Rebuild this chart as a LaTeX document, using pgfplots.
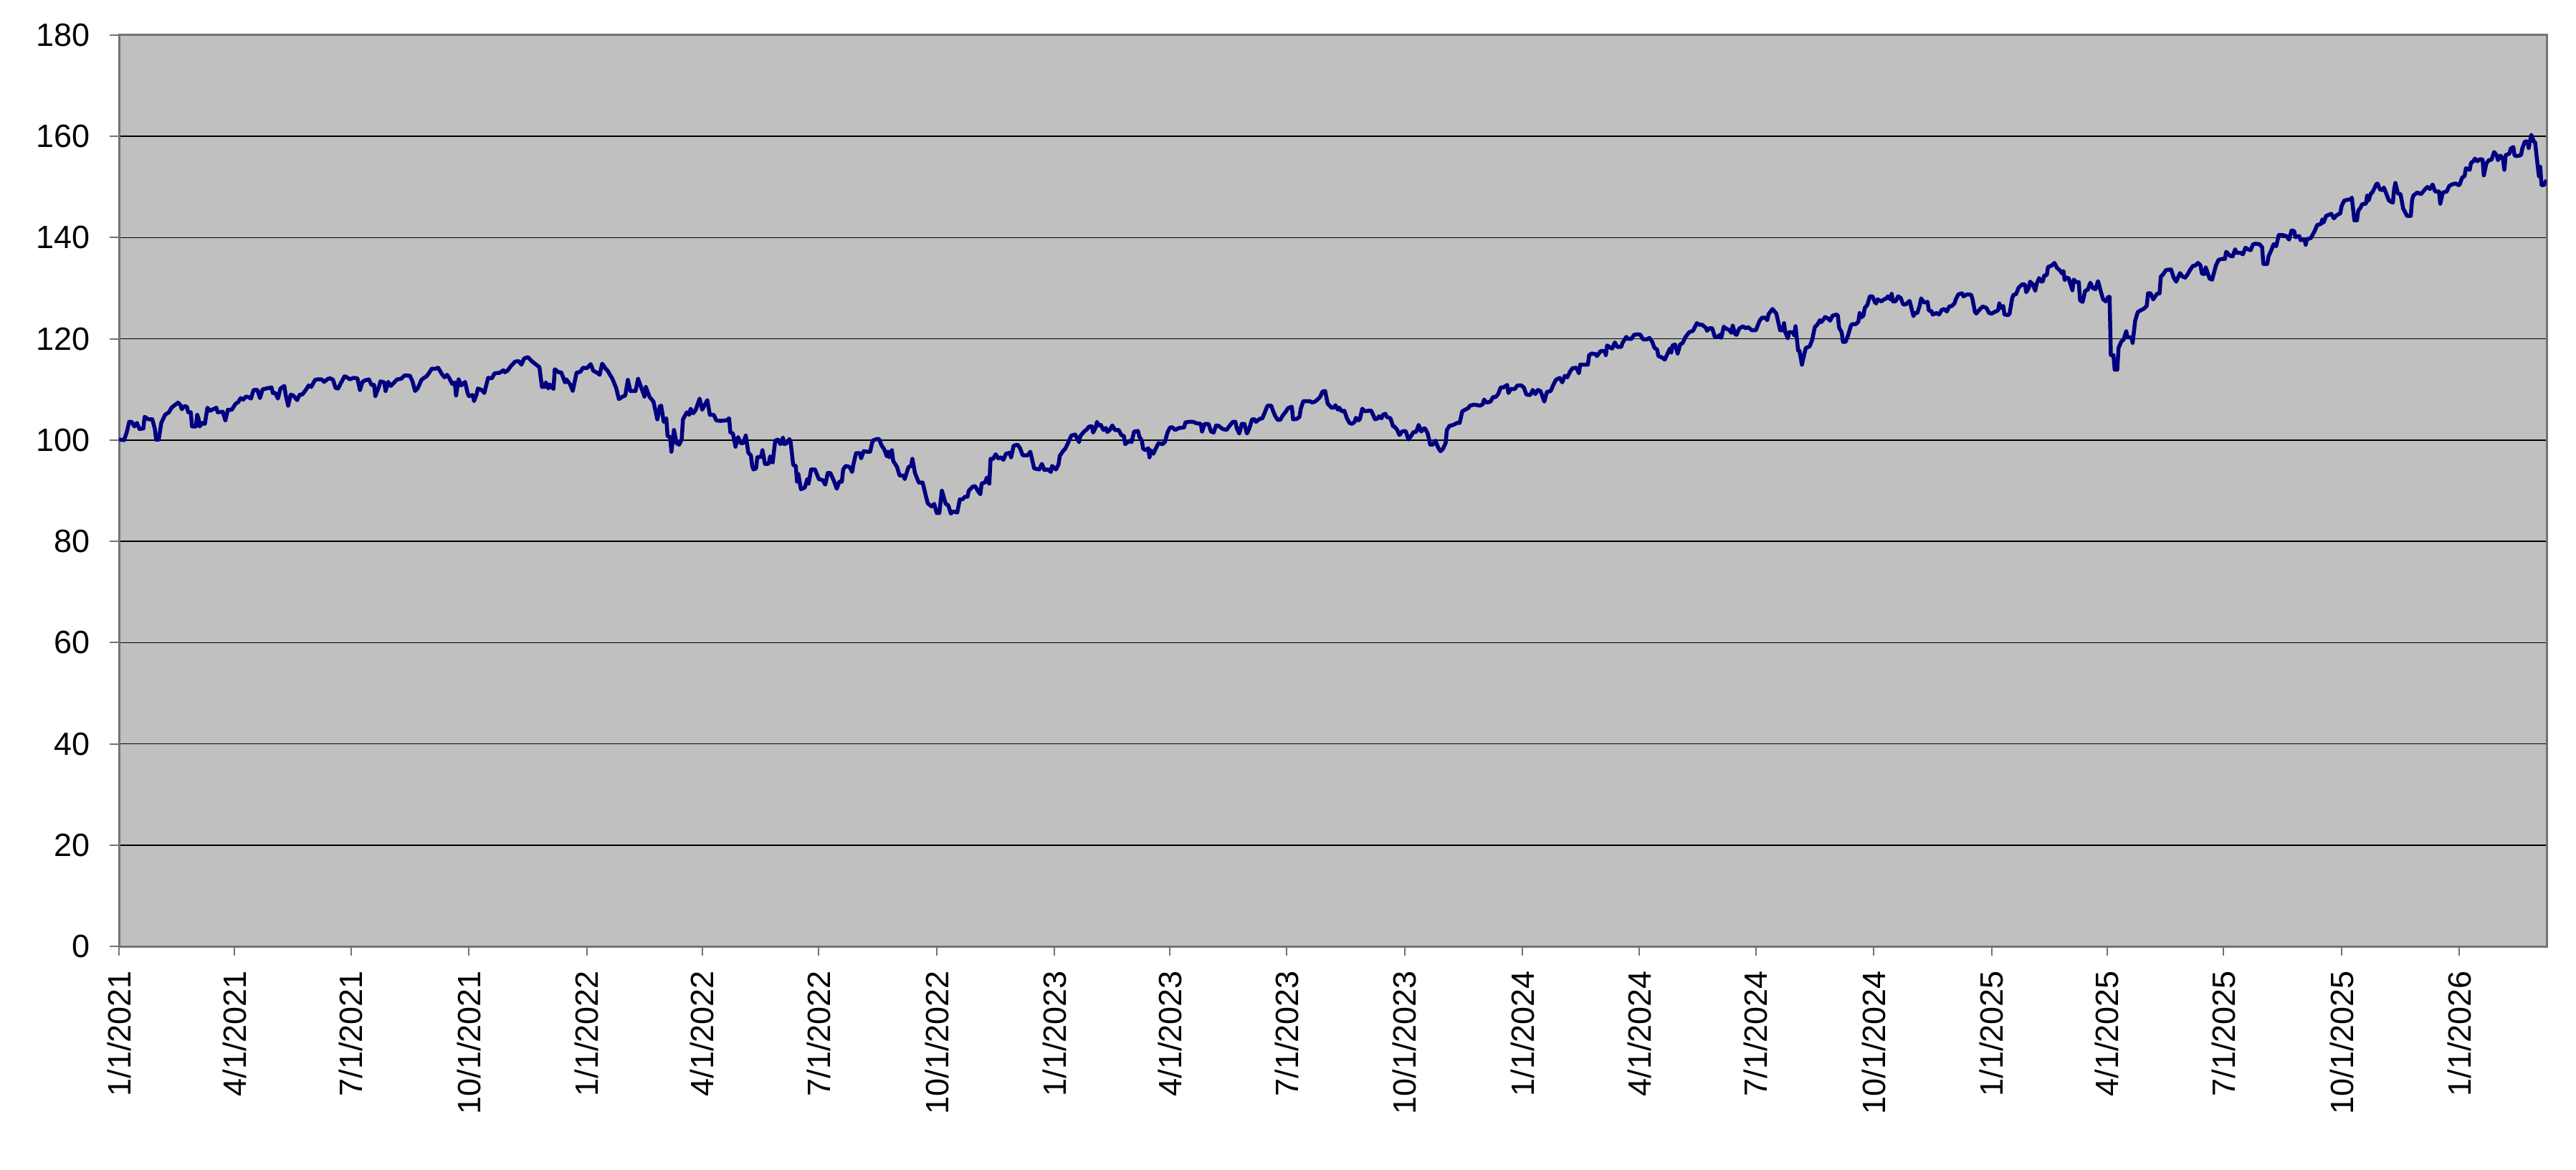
\documentclass[border=0pt]{standalone}
\usepackage{fontspec}
\setmainfont{Liberation Sans}
\usepackage{pgfplots}
\usepackage{pgfplotstable}
\pgfplotsset{compat=1.18}
\definecolor{navyline}{RGB}{0,0,128}
\definecolor{plotbg}{RGB}{192,192,192}
\pgfplotstableread{
d v
0 100.0
1 100.1
4 100.0
6 101.5
8 103.6
10 103.6
12 102.7
14 103.4
16 102.2
19 102.3
20 104.6
23 104.1
26 104.1
28 102.2
29 100.1
31 100.1
33 103.4
36 105.0
39 105.5
41 106.4
44 107.0
46 107.4
48 106.9
49 106.1
51 106.7
53 106.6
54 105.5
56 105.5
57 102.7
60 102.7
61 105.0
62 104.3
63 102.7
65 103.4
67 103.2
69 106.4
71 105.8
76 106.4
77 105.5
81 105.6
83 103.9
85 106.0
88 106.0
91 107.2
93 107.5
95 108.3
97 108.0
99 108.6
101 108.5
103 108.2
105 109.9
108 109.9
110 108.3
112 110.0
115 110.2
119 110.4
120 109.3
122 109.3
124 108.2
126 110.2
129 110.7
130 109.0
132 106.8
134 109.0
136 108.8
139 107.9
141 109.0
143 109.0
146 110.0
148 110.8
150 110.5
153 111.9
155 112.0
158 112.0
160 111.5
163 112.1
165 112.2
167 111.9
169 110.3
171 110.2
173 111.2
176 112.6
178 112.4
180 112.0
183 112.3
186 112.2
188 109.9
190 111.5
192 111.8
195 112.0
197 110.9
199 110.9
200 108.7
203 110.7
204 111.6
207 111.4
208 109.7
210 111.5
212 110.7
214 111.2
217 112.0
220 112.1
223 112.8
227 112.7
229 111.6
231 109.7
233 110.2
236 111.9
238 112.3
240 112.6
242 113.3
244 114.1
247 114.1
249 114.3
252 113.0
254 112.4
256 112.9
258 112.1
260 111.1
262 111.4
263 108.8
265 112.0
267 110.8
270 111.5
272 109.3
273 108.7
276 108.9
277 107.7
279 109.0
280 110.2
283 109.9
285 109.3
288 112.3
291 112.2
293 113.2
297 113.3
300 113.8
301 113.4
303 113.7
306 114.7
309 115.5
312 115.6
314 114.9
316 116.1
319 116.4
322 115.6
326 114.8
328 114.4
330 110.5
332 110.5
333 111.4
335 110.2
336 111.0
339 110.1
340 114.0
343 113.4
345 113.4
348 111.4
349 112.0
352 111.0
354 109.7
357 113.3
360 113.5
362 114.3
365 114.2
368 115.0
370 113.7
373 113.3
375 112.9
377 115.1
380 114.0
381 113.8
385 112.1
388 110.2
390 108.1
393 108.6
395 108.8
397 111.9
399 109.7
403 109.7
405 112.1
408 110.0
410 108.6
411 110.5
414 108.5
417 107.6
420 104.1
422 106.7
423 106.8
425 103.6
427 104.3
428 100.8
430 100.6
431 97.7
433 102.0
435 99.4
437 99.1
439 100.1
440 104.1
443 105.5
445 105.0
446 106.2
448 105.3
450 106.0
453 108.2
455 106.0
459 107.9
461 105.0
464 105.0
466 103.9
469 103.8
474 103.9
476 104.3
477 101.5
479 101.3
481 98.7
483 100.6
485 99.4
487 99.4
489 100.9
491 97.5
493 97.0
494 94.9
495 94.2
497 94.4
498 96.6
501 96.7
502 98.0
504 95.3
506 95.3
507 95.4
508 96.8
510 95.6
512 99.9
514 100.1
516 99.2
518 100.5
519 99.2
521 99.4
523 100.2
524 99.6
526 95.1
528 94.9
529 91.8
530 93.3
532 90.3
535 90.6
537 92.3
538 91.4
540 94.2
543 94.2
546 92.3
549 92.1
551 91.2
553 93.5
555 93.5
558 91.8
560 90.4
562 91.8
564 91.8
565 94.2
567 94.9
570 94.7
572 93.7
573 95.2
575 97.4
578 97.4
579 96.4
581 97.8
584 97.7
586 97.7
588 99.9
591 100.2
593 100.2
595 98.9
597 98.2
599 96.8
600 97.7
601 96.6
603 98.0
604 95.9
607 94.7
609 93.0
612 93.0
613 92.3
616 94.7
618 94.9
619 96.3
621 93.5
624 91.6
627 91.6
629 89.5
631 87.5
634 86.9
636 87.4
638 85.6
640 85.6
642 90.0
645 87.4
647 87.1
649 85.5
651 85.9
654 85.7
656 88.3
658 88.3
660 88.8
662 88.8
663 90.0
666 90.8
668 90.9
670 90.0
672 89.3
673 91.4
676 91.7
677 92.6
679 91.4
680 96.3
682 96.3
684 97.2
686 96.4
688 96.6
690 96.1
692 97.3
695 97.5
696 96.6
698 98.9
701 99.1
703 98.4
705 97.0
709 97.0
711 97.7
712 96.6
714 94.4
718 94.2
720 95.3
722 94.1
725 94.2
727 93.7
728 94.9
731 94.2
733 95.2
734 96.9
737 98.0
738 98.2
740 99.2
743 100.9
746 101.1
749 99.6
750 100.8
753 101.7
755 102.1
757 102.7
759 102.7
760 101.5
762 102.5
763 103.6
764 102.9
766 103.0
768 102.0
770 102.4
771 101.6
773 102.0
775 102.9
777 102.0
780 102.0
782 101.0
784 100.8
785 99.2
787 99.6
789 99.9
790 99.6
792 101.7
795 101.8
796 100.7
798 99.9
799 98.3
801 98.0
803 98.4
804 96.6
805 98.0
807 97.3
809 98.4
811 99.4
814 99.2
816 99.6
818 101.5
820 102.5
822 102.5
824 102.0
827 102.4
831 102.5
832 103.5
835 103.6
838 103.6
841 103.3
844 103.2
845 101.7
847 103.2
850 103.2
852 101.7
854 101.5
856 102.9
858 102.8
861 102.2
864 102.0
867 103.0
869 103.6
871 103.6
872 102.4
874 101.3
876 103.2
878 103.2
880 101.3
882 102.4
884 104.1
886 104.1
887 103.6
890 104.2
892 104.3
894 105.5
896 106.8
899 106.8
900 106.0
902 104.8
904 104.0
906 104.0
908 104.9
910 105.5
912 106.3
913 106.4
915 106.6
916 104.1
919 104.2
921 104.6
922 106.2
924 107.7
927 107.7
929 107.7
931 107.4
933 107.6
935 108.0
937 108.5
939 109.6
941 109.7
943 107.2
946 106.4
948 106.4
949 106.9
951 106.0
952 106.4
954 105.7
956 105.8
958 104.3
960 103.4
962 103.2
964 103.6
965 104.4
967 103.9
968 104.1
970 106.2
972 105.7
975 105.8
977 105.8
980 104.1
982 104.3
983 104.7
985 104.3
986 105.0
988 105.2
989 104.6
992 104.3
994 102.7
995 102.7
997 102.1
999 101.0
1001 101.7
1003 101.8
1004 101.7
1006 100.1
1008 100.8
1010 101.6
1012 101.6
1014 103.0
1016 101.7
1018 102.3
1019 102.3
1021 101.3
1023 99.1
1025 99.1
1027 99.9
1029 98.6
1031 97.8
1033 98.3
1035 99.4
1036 102.0
1038 102.8
1041 103.0
1044 103.4
1046 103.4
1048 105.7
1051 106.1
1053 106.4
1054 106.8
1057 107.0
1060 106.9
1062 106.8
1064 107.1
1065 108.0
1067 107.4
1070 107.6
1072 108.5
1074 108.5
1076 109.1
1078 110.4
1080 110.4
1083 110.9
1084 109.3
1086 110.1
1089 110.1
1091 110.8
1094 110.8
1096 110.4
1098 109.0
1101 108.9
1103 109.9
1105 109.1
1107 109.9
1109 109.7
1112 107.6
1114 109.5
1117 109.7
1119 110.9
1121 111.9
1124 112.3
1126 111.4
1128 112.7
1130 112.4
1132 113.5
1134 114.2
1137 114.3
1139 113.2
1140 114.9
1144 114.9
1146 114.9
1147 116.8
1149 117.1
1152 117.0
1153 116.6
1156 117.6
1159 117.6
1160 116.8
1161 118.7
1164 118.2
1165 118.1
1167 119.3
1169 118.4
1172 118.4
1173 119.2
1176 120.4
1177 120.0
1180 120.0
1182 120.8
1185 120.9
1187 120.8
1189 119.9
1192 119.9
1194 120.2
1196 119.5
1198 118.2
1200 117.9
1201 116.6
1204 116.3
1206 115.9
1208 117.0
1210 118.1
1211 117.3
1212 118.7
1214 118.9
1216 117.1
1218 118.9
1220 119.2
1222 120.3
1225 121.3
1228 121.6
1231 123.1
1233 122.8
1235 122.8
1238 122.2
1239 121.6
1241 122.1
1243 122.1
1245 120.4
1247 120.3
1249 120.8
1250 120.2
1252 122.4
1254 122.0
1256 121.8
1258 121.2
1259 122.6
1261 120.9
1262 120.8
1264 122.0
1267 122.5
1269 122.1
1271 122.3
1274 121.7
1277 121.7
1278 122.3
1280 123.6
1282 124.2
1284 124.2
1286 123.7
1287 124.9
1290 125.9
1291 125.6
1293 125.0
1296 121.7
1298 121.7
1299 123.1
1300 121.3
1302 120.1
1303 121.3
1306 121.3
1307 120.7
1308 122.5
1310 117.7
1311 117.7
1313 114.9
1314 116.1
1316 118.2
1318 118.4
1319 118.5
1321 119.8
1323 122.3
1325 122.8
1327 123.7
1328 123.3
1330 123.9
1331 124.3
1333 124.1
1335 123.6
1337 124.6
1340 124.8
1341 124.6
1342 122.2
1344 121.3
1345 119.4
1347 119.4
1349 120.7
1351 122.5
1352 122.9
1355 122.9
1357 123.4
1358 125.1
1359 124.2
1361 124.6
1362 126.1
1364 126.7
1366 128.4
1368 128.4
1370 127.2
1371 127.0
1372 127.8
1375 127.4
1377 127.8
1379 128.0
1380 128.4
1382 127.8
1383 128.9
1384 127.4
1386 127.4
1388 128.4
1390 128.1
1392 126.8
1394 126.8
1397 127.5
1400 124.5
1401 125.1
1403 125.1
1405 126.7
1406 128.0
1408 127.2
1411 127.3
1412 125.6
1414 125.5
1415 124.8
1418 125.1
1420 124.8
1422 125.7
1424 125.9
1426 125.4
1428 126.4
1430 126.5
1432 127.0
1433 127.8
1435 128.8
1438 129.0
1439 128.4
1442 128.8
1445 128.7
1446 127.9
1448 125.3
1449 125.0
1451 125.6
1454 126.4
1457 126.1
1459 125.1
1461 125.0
1464 125.4
1466 125.6
1467 127.0
1468 126.1
1470 126.5
1471 124.8
1474 124.7
1475 125.0
1477 128.0
1478 128.7
1480 128.8
1482 130.1
1485 130.8
1487 130.7
1488 129.2
1490 130.1
1491 131.3
1493 130.8
1495 129.5
1496 130.8
1498 132.0
1500 131.3
1501 131.4
1502 132.5
1504 132.6
1505 134.2
1508 134.5
1510 135.0
1512 134.0
1514 133.6
1516 132.9
1517 133.4
1518 131.6
1519 132.1
1521 132.0
1524 129.6
1525 131.7
1527 131.2
1529 131.2
1530 127.6
1532 127.3
1534 129.5
1536 129.7
1538 131.1
1540 130.0
1542 129.8
1544 131.4
1546 129.5
1548 127.8
1550 127.4
1552 128.3
1553 128.3
1554 116.8
1556 116.8
1557 113.9
1559 113.9
1560 118.2
1562 119.4
1564 119.9
1566 121.5
1567 120.3
1570 120.3
1571 119.2
1573 123.6
1575 125.3
1577 125.6
1580 126.0
1582 126.5
1583 129.0
1585 129.0
1587 127.8
1590 128.9
1592 129.0
1593 132.3
1595 132.8
1597 133.6
1601 133.7
1603 132.1
1605 131.3
1606 131.9
1608 133.0
1610 132.3
1612 132.1
1614 132.8
1616 133.7
1618 134.4
1620 134.5
1622 135.0
1624 134.5
1625 132.9
1627 132.8
1628 134.1
1630 132.7
1631 131.9
1633 131.7
1636 134.5
1638 135.6
1641 135.8
1643 135.8
1644 137.2
1647 136.4
1649 136.3
1651 137.7
1652 137.0
1655 137.0
1657 136.7
1659 138.0
1661 137.7
1663 137.5
1665 138.7
1667 138.8
1670 138.7
1672 138.1
1673 134.8
1676 134.8
1677 136.3
1679 137.4
1681 138.7
1683 138.3
1685 140.5
1688 140.5
1691 140.3
1693 139.6
1695 141.4
1697 141.3
1698 140.1
1701 140.3
1702 139.5
1705 139.7
1706 138.6
1707 139.7
1710 139.9
1713 141.3
1715 142.5
1718 142.7
1719 143.6
1720 143.0
1722 144.3
1726 144.7
1728 143.8
1730 144.4
1733 144.8
1734 146.2
1736 147.3
1739 147.5
1741 147.5
1742 147.9
1744 143.4
1746 143.4
1747 145.3
1749 146.0
1750 146.6
1753 146.7
1754 148.3
1755 147.3
1757 148.8
1758 148.9
1761 150.5
1762 150.7
1764 149.5
1766 149.4
1767 149.9
1769 148.6
1771 147.3
1774 146.9
1775 149.5
1776 150.8
1778 148.7
1780 148.6
1782 145.8
1783 145.3
1785 144.3
1788 144.3
1789 147.4
1790 148.3
1793 148.9
1796 148.6
1799 149.5
1801 150.0
1803 149.6
1805 150.5
1807 149.1
1810 149.1
1811 146.7
1813 148.9
1816 149.1
1818 150.2
1820 150.5
1823 150.7
1825 150.4
1826 150.4
1828 151.8
1830 152.2
1831 153.7
1834 153.4
1835 154.8
1837 155.1
1838 155.6
1840 155.1
1842 155.5
1844 155.4
1845 152.3
1847 154.7
1849 155.3
1851 155.4
1853 156.9
1855 156.3
1856 155.3
1858 156.2
1860 155.4
1861 153.4
1862 156.3
1865 156.6
1866 157.6
1868 157.9
1869 156.2
1871 156.1
1874 156.3
1875 157.6
1877 159.0
1879 159.0
1880 157.7
1882 160.3
1884 159.0
1885 158.8
1887 154.2
1888 152.1
1889 154.0
1890 150.4
1892 150.4
1894 151.4
}\seriesdata
\begin{document}
\begin{tikzpicture}
\begin{axis}[
  at={(0,0)}, anchor=south west,
  scale only axis,
  width=677.4pt, height=254.2pt,
  xmin=0, xmax=1894, ymin=0, ymax=180,
  ytick={0,20,...,180},
  xtick={0,90,181,273,365,455,546,638,730,820,911,1003,1095,1186,1277,1369,1461,1551,1642,1734,1826},
  xticklabels={1/1/2021,4/1/2021,7/1/2021,10/1/2021,1/1/2022,4/1/2022,7/1/2022,10/1/2022,1/1/2023,4/1/2023,7/1/2023,10/1/2023,1/1/2024,4/1/2024,7/1/2024,10/1/2024,1/1/2025,4/1/2025,7/1/2025,10/1/2025,1/1/2026},
  tick pos=left,
  tick align=outside,
  major tick length=2.6pt,
  tick style={draw=black!55, line width=0.4pt},
  ymajorgrids,
  grid style={draw=black, line width=0.3pt},
  axis background/.style={fill=plotbg},
  axis line style={draw=black!55, line width=0.6pt},
  /pgf/number format/assume math mode=true,
  x tick label style={rotate=90, anchor=east, inner sep=0pt, font=\fontsize{9}{10}\selectfont},
  y tick label style={anchor=east, inner sep=0pt, font=\fontsize{9}{10}\selectfont},
  xticklabel shift=4pt,
  yticklabel shift=5.2pt,
]
\addplot[navyline, line width=1.1pt, line join=round, mark=none] table[x=d, y=v] {\seriesdata};
\end{axis}
\pgfresetboundingbox
\path[use as bounding box] (-33.2pt,-62.2pt) rectangle (685.6pt,264pt);
\end{tikzpicture}
\end{document}
